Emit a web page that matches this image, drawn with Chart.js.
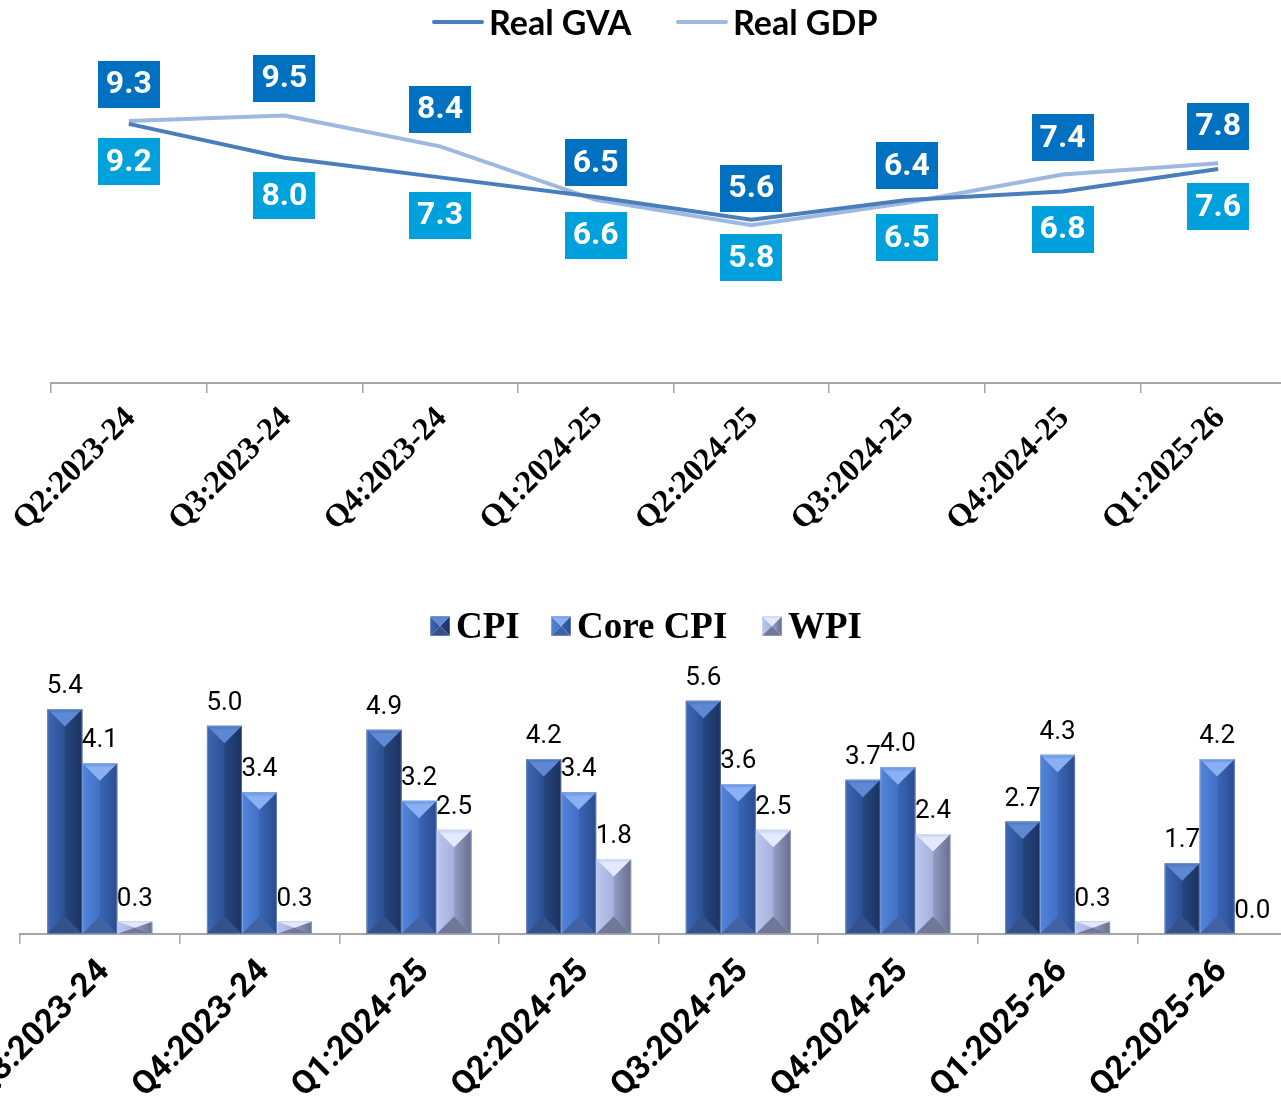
<!DOCTYPE html>
<html>
<head>
<meta charset="utf-8">
<script src="https://cdn.jsdelivr.net/npm/chart.js@4.4.1/dist/chart.umd.min.js"></script>
<style>
  html, body { margin: 0; padding: 0; background: #fff; overflow: hidden; width: 1281px; height: 1099px; position: relative; }
  .wrap { position: absolute; }
  .leg { position: absolute; display: flex; align-items: center; white-space: nowrap; color: #000; }
  .leg .ln { display: inline-block; width: 52px; height: 4px; margin-right: 5px; border-radius: 2px; }
  .leg .lt { font: bold 34px Lato, sans-serif; line-height: 38px; }
  .leg2 { position: absolute; display: flex; align-items: center; white-space: nowrap; color: #000; }
  .leg2 canvas { display: block; margin-right: 6px; }
  .leg2 span { font: bold 37px "Liberation Serif", serif; line-height: 40px; }
</style>
</head>
<body>
<div class="wrap" style="left:-10px;top:0;width:1328px;height:560px"><canvas id="growth" width="1328" height="560"></canvas></div>
<div class="wrap" style="left:-20px;top:600px;width:1330px;height:499px"><canvas id="inflation" width="1330" height="499"></canvas></div>

<div class="leg" style="left:432px;top:3px"><span class="ln" style="background:#4A7EBB"></span><span class="lt">Real GVA</span></div>
<div class="leg" style="left:676px;top:3px"><span class="ln" style="background:#9DB9E0"></span><span class="lt">Real GDP</span></div>

<div class="leg2" style="left:430px;top:606px"><canvas id="icoCpi" width="20" height="20"></canvas><span>CPI</span></div>
<div class="leg2" style="left:551px;top:606px"><canvas id="icoCore" width="20" height="20"></canvas><span>Core CPI</span></div>
<div class="leg2" style="left:762px;top:606px"><canvas id="icoWpi" width="20" height="20"></canvas><span>WPI</span></div>

<script>
// Quarterly growth (%, y-o-y)
const growthQuarters = ['Q2:2023-24', 'Q3:2023-24', 'Q4:2023-24', 'Q1:2024-25',
                        'Q2:2024-25', 'Q3:2024-25', 'Q4:2024-25', 'Q1:2025-26'];
const realGVA = [9.2, 8.0, 7.3, 6.6, 5.8, 6.5, 6.8, 7.6];
const realGDP = [9.3, 9.5, 8.4, 6.5, 5.6, 6.4, 7.4, 7.8];

// Quarterly inflation (%)
const inflationQuarters = ['Q3:2023-24', 'Q4:2023-24', 'Q1:2024-25', 'Q2:2024-25',
                           'Q3:2024-25', 'Q4:2024-25', 'Q1:2025-26', 'Q2:2025-26'];
const cpi     = [5.4, 5.0, 4.9, 4.2, 5.6, 3.7, 2.7, 1.7];
const coreCpi = [4.1, 3.4, 3.2, 3.4, 3.6, 4.0, 4.3, 4.2];
const wpi     = [0.3, 0.3, 2.5, 1.8, 2.5, 2.4, 0.3, 0.0];

// Face colours for the bevelled bars
const bevelCpi  = { top: '#5D89D4', topEdge: '#4670BC', leftA: '#3C64AF', leftB: '#2C4F92', rightA: '#27467F', rightB: '#1B3260', bottom: '#34518A' };
const bevelCore = { top: '#8AB0F4', topEdge: '#5E8CDD', leftA: '#5082D8', leftB: '#4170C6', rightA: '#3A66B6', rightB: '#2A4C90', bottom: '#4263A3' };
const bevelWpi  = { top: '#E4EAFD', topEdge: '#C3CEF0', leftA: '#B8C4EC', leftB: '#A5B1DB', rightA: '#939EC5', rightB: '#676F8F', bottom: '#70789A' };

function drawBevel(ctx, x0, x1, top, base, p) {
  const xc = (x0 + x1) / 2;
  const d = Math.min((x1 - x0) / 2, (base - top) / 2);
  ctx.save();
  // left face
  let g = ctx.createLinearGradient(x0, 0, xc, 0);
  g.addColorStop(0, p.leftA); g.addColorStop(0.15, p.leftA); g.addColorStop(1, p.leftB);
  ctx.fillStyle = g;
  ctx.beginPath(); ctx.moveTo(x0, top); ctx.lineTo(xc, top + d); ctx.lineTo(xc, base - d); ctx.lineTo(x0, base); ctx.closePath(); ctx.fill();
  // right face
  g = ctx.createLinearGradient(xc, 0, x1, 0);
  g.addColorStop(0, p.rightA); g.addColorStop(1, p.rightB);
  ctx.fillStyle = g;
  ctx.beginPath(); ctx.moveTo(x1, top); ctx.lineTo(xc, top + d); ctx.lineTo(xc, base - d); ctx.lineTo(x1, base); ctx.closePath(); ctx.fill();
  // top face
  g = ctx.createLinearGradient(0, top, 0, top + d);
  g.addColorStop(0, p.topEdge); g.addColorStop(0.25, p.top); g.addColorStop(1, p.top);
  ctx.fillStyle = g;
  ctx.beginPath(); ctx.moveTo(x0, top); ctx.lineTo(x1, top); ctx.lineTo(xc, top + d); ctx.closePath(); ctx.fill();
  // bottom face
  ctx.fillStyle = p.bottom;
  ctx.beginPath(); ctx.moveTo(x0, base); ctx.lineTo(x1, base); ctx.lineTo(xc, base - d); ctx.closePath(); ctx.fill();
  // thin rim
  ctx.strokeStyle = 'rgba(255,255,255,0.25)';
  ctx.lineWidth = 1;
  ctx.strokeRect(x0 + 0.5, top + 0.5, x1 - x0 - 1, base - top - 1);
  ctx.restore();
}

// legend icons
[['icoCpi', bevelCpi], ['icoCore', bevelCore], ['icoWpi', bevelWpi]].forEach(([id, p]) => {
  const c = document.getElementById(id).getContext('2d');
  drawBevel(c, 0, 20, 0, 20, p);
});

// value boxes for the growth lines
const boxedLabels = {
  id: 'boxedLabels',
  afterDatasetsDraw(chart) {
    const ctx = chart.ctx;
    chart.data.datasets.forEach((ds, i) => {
      const meta = chart.getDatasetMeta(i);
      meta.data.forEach((pt, j) => {
        const cy = pt.y + ds.boxOffset;
        ctx.save();
        ctx.fillStyle = ds.boxColor;
        ctx.fillRect(Math.round(pt.x - 31), Math.round(cy - 23.5), 62, 47);
        ctx.fillStyle = '#FFFFFF';
        ctx.font = 'bold 32px Roboto';
        ctx.textAlign = 'center';
        ctx.textBaseline = 'middle';
        ctx.fillText(ds.data[j].toFixed(1), pt.x, cy + 1);
        ctx.restore();
      });
    });
  }
};

// bevel faces and value labels for the inflation bars
const bevelBars = {
  id: 'bevelBars',
  afterDatasetsDraw(chart) {
    const ctx = chart.ctx;
    chart.data.datasets.forEach((ds, i) => {
      const meta = chart.getDatasetMeta(i);
      meta.data.forEach(bar => {
        const { x, y, base, width } = bar.getProps(['x', 'y', 'base', 'width'], true);
        if (base - y > 0.5) drawBevel(ctx, x - width / 2, x + width / 2, y, base, ds.bevel);
      });
    });
    chart.data.datasets.forEach((ds, i) => {
      const meta = chart.getDatasetMeta(i);
      meta.data.forEach((bar, j) => {
        const { x, y } = bar.getProps(['x', 'y'], true);
        ctx.save();
        ctx.fillStyle = '#000';
        ctx.font = '26px Roboto';
        ctx.textAlign = 'center';
        ctx.textBaseline = 'alphabetic';
        ctx.fillText(ds.data[j].toFixed(1), x, y - 16);
        ctx.restore();
      });
    });
  }
};

const axisGray = '#A6A6A6';

new Chart(document.getElementById('growth'), {
  type: 'line',
  data: {
    labels: growthQuarters,
    datasets: [
      { label: 'Real GVA', data: realGVA, borderColor: '#4A7EBB', borderWidth: 4, pointRadius: 0, tension: 0,
        boxColor: '#00A0DC', boxOffset: 38 },
      { label: 'Real GDP', data: realGDP, borderColor: '#9DB9E0', borderWidth: 4, pointRadius: 0, tension: 0,
        boxColor: '#0070C0', boxOffset: -37 }
    ]
  },
  options: {
    responsive: false,
    animation: false,
    layout: { padding: { left: 61, right: 22, top: 45, bottom: 0 } },
    plugins: { legend: { display: false }, tooltip: { enabled: false } },
    scales: {
      y: { display: false, min: 0, max: 12 },
      x: {
        offset: true,
        grid: { offset: true, drawOnChartArea: false, drawTicks: true, tickLength: 10, color: axisGray, lineWidth: 1.5 },
        border: { display: true, color: axisGray, width: 2 },
        ticks: { autoSkip: false, minRotation: 45, maxRotation: 45, padding: 9, labelOffset: 2, color: '#000',
                 font: { family: 'Liberation Serif', weight: 'bold', size: 32, lineHeight: 1.0 } },
        afterFit(s) { s.paddingLeft = 0; s.paddingRight = 0; s.height = 177; }
      }
    }
  },
  plugins: [boxedLabels]
});

new Chart(document.getElementById('inflation'), {
  type: 'bar',
  data: {
    labels: inflationQuarters,
    datasets: [
      { label: 'CPI', data: cpi, backgroundColor: bevelCpi.leftB, bevel: bevelCpi },
      { label: 'Core CPI', data: coreCpi, backgroundColor: bevelCore.leftB, bevel: bevelCore },
      { label: 'WPI', data: wpi, backgroundColor: bevelWpi.leftB, bevel: bevelWpi }
    ]
  },
  options: {
    responsive: false,
    animation: false,
    categoryPercentage: 0.658,
    barPercentage: 1.0,
    layout: { padding: { left: 40, right: 13, top: 84, bottom: 0 } },
    plugins: { legend: { display: false }, tooltip: { enabled: false } },
    scales: {
      y: { display: false, min: 0, max: 6 },
      x: {
        offset: true,
        grid: { offset: true, drawOnChartArea: false, drawTicks: true, tickLength: 10, color: axisGray, lineWidth: 1.5 },
        border: { display: true, color: axisGray, width: 2 },
        ticks: { autoSkip: false, minRotation: 45, maxRotation: 45, padding: 13, labelOffset: 5, color: '#000',
                 font: { family: 'Roboto', weight: 'bold', size: 33, lineHeight: 0.8 } },
        afterFit(s) { s.paddingLeft = 0; s.paddingRight = 0; s.height = 165; }
      }
    }
  },
  plugins: [bevelBars]
});
</script>
</body>
</html>
